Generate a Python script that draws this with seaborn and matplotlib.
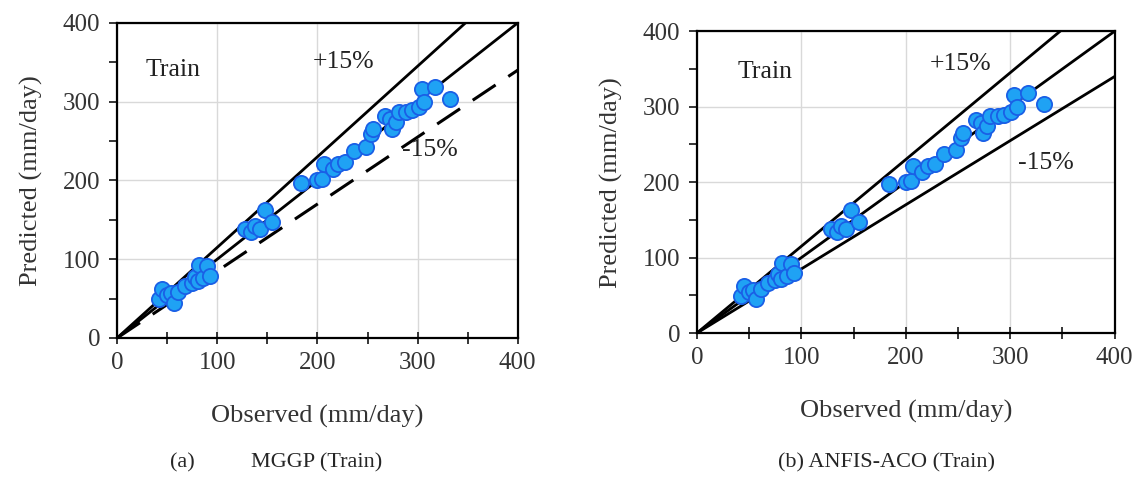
import numpy as np
import matplotlib
matplotlib.use("Agg")
import matplotlib.pyplot as plt
import seaborn as sns
import pandas as pd

# observed vs predicted daily values (mm/day)
observed = [42, 45, 50, 54, 57, 61, 68, 75, 78, 81, 82, 86, 90, 93,
            128, 134, 138, 143, 148, 155,
            184, 200, 205, 207, 216, 221, 228, 237, 248, 253,
            255, 267, 272, 274, 278, 281, 288, 294, 301, 304, 306, 317, 332]
pred_mggp = [49, 62, 55, 57, 45, 59, 66, 70, 78, 72, 93, 76, 91, 79,
             138, 134, 142, 138, 163, 147,
             197, 200, 202, 221, 214, 221, 224, 237, 242, 259,
             265, 282, 278, 265, 274, 287, 287, 289, 293, 316, 299, 318, 304]
pred_anfis = [49, 62, 55, 57, 45, 59, 66, 70, 78, 72, 93, 76, 91, 79,
              138, 134, 142, 138, 163, 147,
              197, 200, 202, 221, 214, 221, 224, 237, 242, 259,
              265, 282, 278, 265, 274, 287, 287, 289, 293, 316, 299, 318, 304]

captions = ["(a)          MGGP (Train)", "(b) ANFIS-ACO (Train)"]

sns.set_style("white")
plt.rcParams["font.family"] = ["Liberation Serif", "DejaVu Serif"]

fig = plt.figure(figsize=(11.48, 4.87), dpi=100)
ax1 = fig.add_axes([0.102, 0.306, 0.349, 0.647])
ax2 = fig.add_axes([0.607, 0.316, 0.364, 0.620])

panels = [
    (ax1, pred_mggp, "--", [(28, 340, "Train"), (195, 350, "+15%"), (284, 239, "-15%")]),
    (ax2, pred_anfis, "-", [(39, 346, "Train"), (223, 357, "+15%"), (307, 225, "-15%")]),
]

line_x = np.array([0, 400])
for i, (ax, pred, low_style, notes) in enumerate(panels):
    df = pd.DataFrame({"obs": observed, "pred": pred})
    ax.plot(line_x, line_x * 1.15, color="black", lw=2, zorder=2)
    ax.plot(line_x, line_x, color="black", lw=2, zorder=2)
    if low_style == "--":
        ax.plot(line_x, line_x * 0.85, color="black", lw=2.2, ls="--",
                dashes=(9, 5), zorder=2)
    else:
        ax.plot(line_x, line_x * 0.85, color="black", lw=2, zorder=2)
    sns.scatterplot(data=df, x="obs", y="pred", ax=ax, s=120, color="#1FA2F4",
                    edgecolor="#1A5FE6", linewidth=1.3, zorder=3, legend=False)
    ax.set_xlim(0, 400)
    ax.set_ylim(0, 400)
    ax.set_xticks([0, 100, 200, 300, 400])
    ax.set_yticks([0, 100, 200, 300, 400])
    ax.set_xticks([50, 150, 250, 350], minor=True)
    ax.set_yticks([50, 150, 250, 350], minor=True)
    ax.grid(True, which="major", color="#D9D9D9", lw=1)
    for sp in ax.spines.values():
        sp.set_color("black")
        sp.set_linewidth(1.6)
    ax.tick_params(axis="x", which="both", direction="inout", length=8, width=1.3,
                   labelsize=18, labelcolor="#333333", pad=6)
    ax.tick_params(axis="y", which="both", direction="out", length=6, width=1.3,
                   labelsize=18, labelcolor="#333333", pad=6)
    ax.tick_params(which="both", bottom=True, left=True)
    ax.set_xlabel("Observed (mm/day)", fontsize=19, color="#333333", labelpad=22)
    ax.set_ylabel("Predicted (mm/day)", fontsize=19, color="#333333", labelpad=14)
    for x, y, t in notes:
        ax.text(x, y, t, fontsize=18.5, color="#222222", ha="left", va="center")

fig.text(0.148, 0.049, captions[0], fontsize=16, ha="left", va="center")
fig.text(0.678, 0.049, captions[1], fontsize=16, ha="left", va="center")

fig.savefig("out.png", dpi=100)
